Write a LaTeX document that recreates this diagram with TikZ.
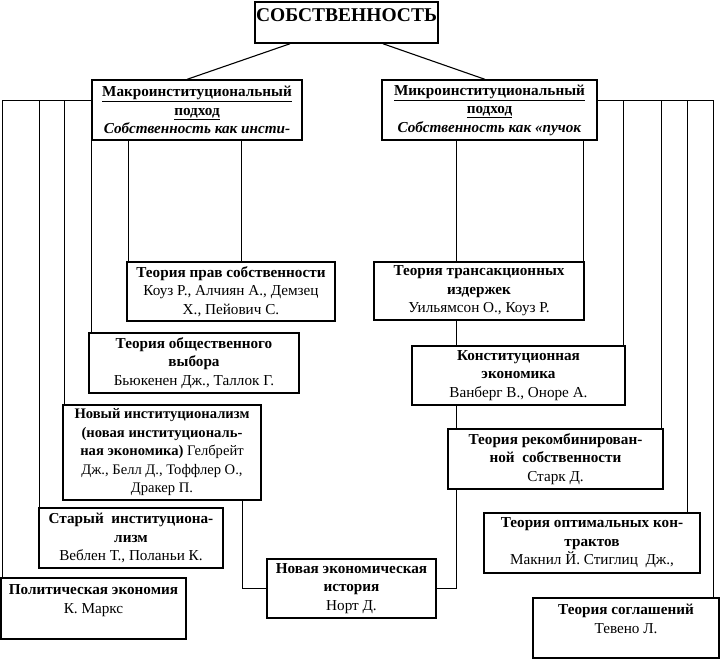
\documentclass[tikz,border=0pt]{standalone}
\usepackage{fontspec}
\setmainfont{Liberation Serif}
\begin{document}
\begin{tikzpicture}[x=1pt,y=-1pt,
  box/.style={draw, line width=1.3pt, inner sep=0pt, align=center,
    font=\fontsize{15.2}{18.5}\selectfont},
  conn/.style={line width=1.1pt}]
\useasboundingbox (0,0) rectangle (720,661);
% nodes
\node[box, line width=1.5pt, minimum width=183pt, minimum height=41pt,
  text height=20pt, text depth=21pt, font=\fontsize{19.5}{21}\selectfont]
  (top) at (346.5,22.5) {\textbf{СОБСТВЕННОСТЬ}};
\node[box, minimum width=210pt, minimum height=60pt] (macro) at (197,110)
  {\underline{\textbf{Макроинституциональный}}\\ \underline{\textbf{подход}}\\ \textbf{\textit{Собственность как инсти-}}};
\node[box, minimum width=215pt, minimum height=60pt] (micro) at (489.5,110)
  {\underline{\textbf{Микроинституциональный}}\\ \underline{\textbf{подход}}\\ \textbf{\textit{Собственность как «пучок}}};
\node[box, minimum width=208pt, minimum height=59pt] (prav) at (231,291.5)
  {\textbf{Теория прав собственности}\\ Коуз Р., Алчиян А., Демзец\\ Х., Пейович С.};
\node[box, minimum width=210pt, minimum height=60pt] (obsh) at (194,363)
  {\textbf{Теория общественного}\\ \textbf{выбора}\\ Бьюкенен Дж., Таллок Г.};
\node[box, minimum width=198pt, minimum height=95pt, font=\fontsize{14.6}{18.5}\selectfont] (novyi) at (162,452.5)
  {\textbf{Новый институционализм}\\ \textbf{(новая институциональ-}\\ \textbf{ная экономика)} Гелбрейт\\ Дж., Белл Д., Тоффлер О.,\\ Дракер П.};
\node[box, minimum width=184pt, minimum height=60pt] (stary) at (131,538)
  {\textbf{Старый\ \ институциона-}\\ \textbf{лизм}\\ Веблен Т., Поланьи К.};
\node[box, minimum width=185pt, minimum height=61pt] (polit) at (93.5,608.5)
  {\textbf{Политическая экономия}\\ К. Маркс\\ ~};
\node[box, minimum width=169pt, minimum height=59pt] (nei) at (351.5,588.5)
  {\textbf{Новая экономическая}\\ \textbf{история}\\ Норт Д.};
\node[box, minimum width=210pt, minimum height=58pt] (trans) at (479,291)
  {\textbf{Теория трансакционных}\\ \textbf{издержек}\\ Уильямсон О., Коуз Р.};
\node[box, minimum width=213pt, minimum height=59pt] (konst) at (518.5,375.5)
  {\textbf{Конституционная}\\ \textbf{экономика}\\ Ванберг В., Оноре А.};
\node[box, minimum width=215pt, minimum height=60pt] (rekomb) at (555.5,459)
  {\textbf{Теория рекомбинирован-}\\ \textbf{ной\ \ собственности}\\ Старк Д.};
\node[box, minimum width=216pt, minimum height=60pt] (optim) at (592,543)
  {\textbf{Теория оптимальных кон-}\\ \textbf{трактов}\\ Макнил Й. Стиглиц\ \ Дж.,};
\node[box, minimum width=186pt, minimum height=60pt] (sogl) at (626,628)
  {\textbf{Теория соглашений}\\ Тевено Л.\\ ~};
% helper coordinates
\coordinate (lh) at ([yshift=-21pt]macro.north west);
\coordinate (rh) at ([yshift=-21pt]micro.north east);
% top connectors
\draw[conn] ([xshift=-56.5pt]top.south) -- ([xshift=-10pt]macro.north);
\draw[conn] ([xshift=36.5pt]top.south) -- ([xshift=-4.5pt]micro.north);
% left side
\draw[conn] (lh) -| ([xshift=2pt]polit.north west);
\draw[conn] ([xshift=1pt]stary.north west) -- ([xshift=1pt]stary.north west |- lh);
\draw[conn] ([xshift=2pt]novyi.north west) -- ([xshift=2pt]novyi.north west |- lh);
\draw[conn] (macro.south west) -- (macro.south west |- obsh.north);
\draw[conn] ([xshift=2pt]prav.north west) -- ([xshift=2pt]prav.north west |- macro.south);
\draw[conn] ([xshift=115pt]prav.north west) -- ([xshift=115pt]prav.north west |- macro.south);
\draw[conn] ([xshift=-19pt]novyi.south east) |- (nei.west);
% right side
\draw[conn] ([xshift=83pt]trans.north west) -- ([xshift=83pt]trans.north west |- micro.south);
\draw[conn] ([xshift=-1pt]trans.north east) -- ([xshift=-1pt]trans.north east |- micro.south);
\draw[conn] ([xshift=83pt]trans.south west) -- ([xshift=83pt]trans.south west |- konst.north);
\draw[conn] ([xshift=83pt]trans.south west |- konst.south) -- ([xshift=83pt]trans.south west |- rekomb.north);
\draw[conn] ([xshift=83pt]trans.south west |- rekomb.south) |- (nei.east);
\draw[conn] (rh) -| ([xshift=-6pt]sogl.north east);
\draw[conn] ([xshift=-2pt]konst.north east) -- ([xshift=-2pt]konst.north east |- rh);
\draw[conn] ([xshift=-2pt]rekomb.north east) -- ([xshift=-2pt]rekomb.north east |- rh);
\draw[conn] ([xshift=-13pt]optim.north east) -- ([xshift=-13pt]optim.north east |- rh);
\end{tikzpicture}
\end{document}
